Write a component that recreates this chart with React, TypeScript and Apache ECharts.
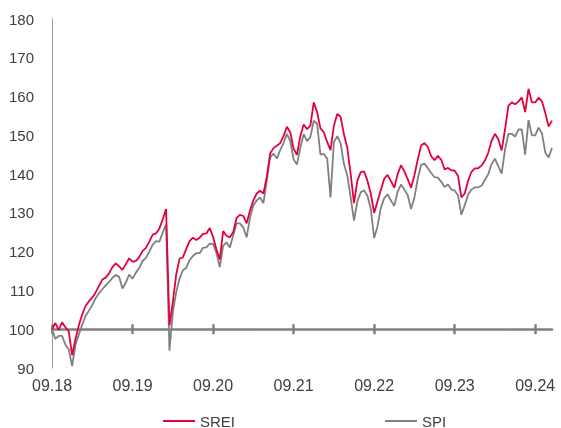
import React, { useEffect, useRef } from "react";
import * as echarts from "echarts";

// Semi-monthly observation dates, Sep 2018 – Nov 2024
const dates: string[] = [];
for (let y = 2018; y <= 2024; y++) {
  for (let m = 1; m <= 12; m++) {
    if (y === 2018 && m < 9) continue;
    if (y === 2024 && m > 11) continue;
    const mm = String(m).padStart(2, "0");
    dates.push(`${y}-${mm}-01`, `${y}-${mm}-15`);
  }
}

const sreiValues: number[] = [
  100, 101.6, 99.8, 101.8, 100.5, 99.4, 93.3, 97.5, 101, 103.8,
  106, 107.2, 108.2, 109.5, 111.2, 112.8, 113.3, 114.4, 116, 117,
  116.2, 115.3, 116.8, 118.3, 117.4, 117.6, 118.6, 120.2, 121, 122.6,
  124.4, 124.7, 126, 128.3, 131, 101, 107, 114, 118.2, 118.5,
  120.7, 122.7, 123.6, 123, 123.6, 124.6, 124.7, 126.1, 123.8, 120.6,
  118, 125.3, 124.1, 123.7, 125, 128.7, 129.5, 129.2, 127.3, 130.6,
  133.2, 135, 135.7, 135, 139.2, 145.3, 146.7, 147.3, 148, 149.8,
  152.2, 150.8, 146.5, 145, 149.8, 152.8, 151.6, 152.5, 158.5, 156,
  151.8, 150.8, 148.3, 146.2, 152.5, 155.5, 154.8, 150.3, 146.8, 140,
  132.5, 138.3, 140.5, 140.7, 138.3, 135, 130, 133, 135.9, 138.8,
  139.8, 138.2, 136.5, 140, 142.3, 140.7, 138.7, 136.5, 139.7, 143.8,
  147.4, 148, 147, 144.6, 143.6, 144.7, 143.7, 141.2, 141.6, 141,
  140.9, 139.5, 134, 135, 138.3, 140.6, 141.5, 141.5, 142.2, 143.5,
  145.5, 148.6, 150.4, 149, 146.1, 151.5, 157.6, 158.5, 158, 158.7,
  159.8, 156, 162, 158.5, 158.5, 159.7, 158.8, 155.8, 152.3, 153.8,
];

const spiValues: number[] = [
  100, 97.5, 98.3, 98.3, 96, 94.8, 90.5, 96, 98.6, 101.2,
  103.4, 104.8, 106.2, 108, 109.3, 110.3, 111.3, 112.2, 113.2, 114,
  113.5, 110.5, 112, 114.1, 113, 114.6, 115.8, 117.6, 118.4, 120,
  121.8, 122.7, 122.6, 124.9, 127, 94.5, 104.3, 109.5, 113, 115.2,
  115.8, 117.8, 118.9, 119.6, 119.6, 121, 121.1, 122.1, 122, 119.7,
  116, 121.5, 122.4, 121.1, 124.2, 127.3, 127.3, 126.2, 123.7, 128.8,
  131.9, 133.2, 134, 132.5, 138.3, 144.3, 145.3, 144, 146.2, 148,
  150.4, 148.5, 143.8, 142.5, 146.8, 150.3, 148.5, 149.6, 153.8, 153,
  145, 145.2, 144, 134, 148.2, 149.8, 148, 142.6, 139.6, 134,
  128, 133, 135.3, 135.8, 134.4, 131, 123.5, 126.5, 131.3, 133.8,
  134.8, 133.2, 131.8, 135.5, 137.3, 136, 134.6, 131, 134, 138.8,
  142.4, 142.7, 141.5, 140.3, 139.2, 139.1, 138, 136.7, 137.3, 136,
  135.8, 134.5, 129.5, 132, 134.7, 136, 136.6, 136.6, 137, 138.5,
  140, 142.6, 144, 142, 140.1, 146.3, 150.4, 150.4, 149.7, 151.5,
  151.5, 145, 153.9, 150, 150, 152, 150.5, 145.6, 144.3, 146.8,
];

const seriesNames = ["SREI", "SPI"];
const yTicks = { min: 90, max: 180, interval: 10 };

const RED = "#E4003B";
const GREY = "#808080";
const TEXT = "#404040";
const FONT = "Liberation Sans, Arial, sans-serif";

export default function App() {
  const ref = useRef<HTMLDivElement>(null);
  useEffect(() => {
    if (!ref.current) return;
    const chart = echarts.init(ref.current, undefined, { renderer: "svg" });
    const gridTop = 19;
    const gridHeight = 349;
    const baseOffset = -((100 - yTicks.min) / (yTicks.max - yTicks.min)) * gridHeight;
    const fmt = (v: string) => v.slice(5, 7) + "." + v.slice(2, 4);
    const baseAxis = {
      type: "category" as const,
      data: dates,
      boundaryGap: false,
      position: "bottom" as const,
      gridIndex: 0,
    };
    chart.setOption({
      animation: false,
      textStyle: { fontFamily: FONT },
      grid: { left: 52, top: gridTop, width: 500, height: gridHeight, containLabel: false },
      legend: {
        data: seriesNames,
        left: 163,
        top: 413,
        padding: 0,
        itemGap: 150,
        itemWidth: 32,
        itemHeight: 2,
        icon: "rect",
        textStyle: { color: TEXT, fontSize: 15, fontFamily: FONT, lineHeight: 16 },
      },
      xAxis: [
        {
          ...baseAxis,
          axisLine: { show: false },
          axisTick: { show: false },
          splitLine: { show: false },
          axisLabel: {
            interval: 23,
            formatter: fmt,
            color: TEXT,
            fontSize: 16,
            margin: 9,
            fontFamily: FONT,
          },
        },
        {
          ...baseAxis,
          offset: baseOffset,
          axisLine: { show: true, onZero: false, lineStyle: { color: GREY, width: 2.5 } },
          axisTick: { show: true, interval: 23, length: 5, lineStyle: { color: GREY, width: 2.5 } },
          axisLabel: { show: false },
          splitLine: { show: false },
        },
        {
          ...baseAxis,
          offset: baseOffset,
          axisLine: { show: false, onZero: false },
          axisTick: { show: true, inside: true, interval: 23, length: 5, lineStyle: { color: GREY, width: 2.5 } },
          axisLabel: { show: false },
          splitLine: { show: false },
        },
      ],
      yAxis: {
        type: "value",
        min: yTicks.min,
        max: yTicks.max,
        interval: yTicks.interval,
        axisLine: { show: true, lineStyle: { color: "#999999", width: 1 } },
        axisTick: { show: false },
        splitLine: { show: false },
        axisLabel: { color: TEXT, fontSize: 15, margin: 18, fontFamily: FONT },
      },
      series: [
        {
          name: seriesNames[0],
          type: "line",
          data: sreiValues,
          xAxisIndex: 0,
          showSymbol: false,
          symbol: "none",
          z: 3,
          lineStyle: { color: RED, width: 1.8 },
          itemStyle: { color: RED },
        },
        {
          name: seriesNames[1],
          type: "line",
          data: spiValues,
          xAxisIndex: 0,
          showSymbol: false,
          symbol: "none",
          z: 2,
          lineStyle: { color: GREY, width: 1.8 },
          itemStyle: { color: GREY },
        },
      ],
    });
    return () => chart.dispose();
  }, []);
  return (
    <div
      ref={ref}
      style={{ position: "fixed", left: 0, top: 0, width: 561, height: 428 }}
    />
  );
}
